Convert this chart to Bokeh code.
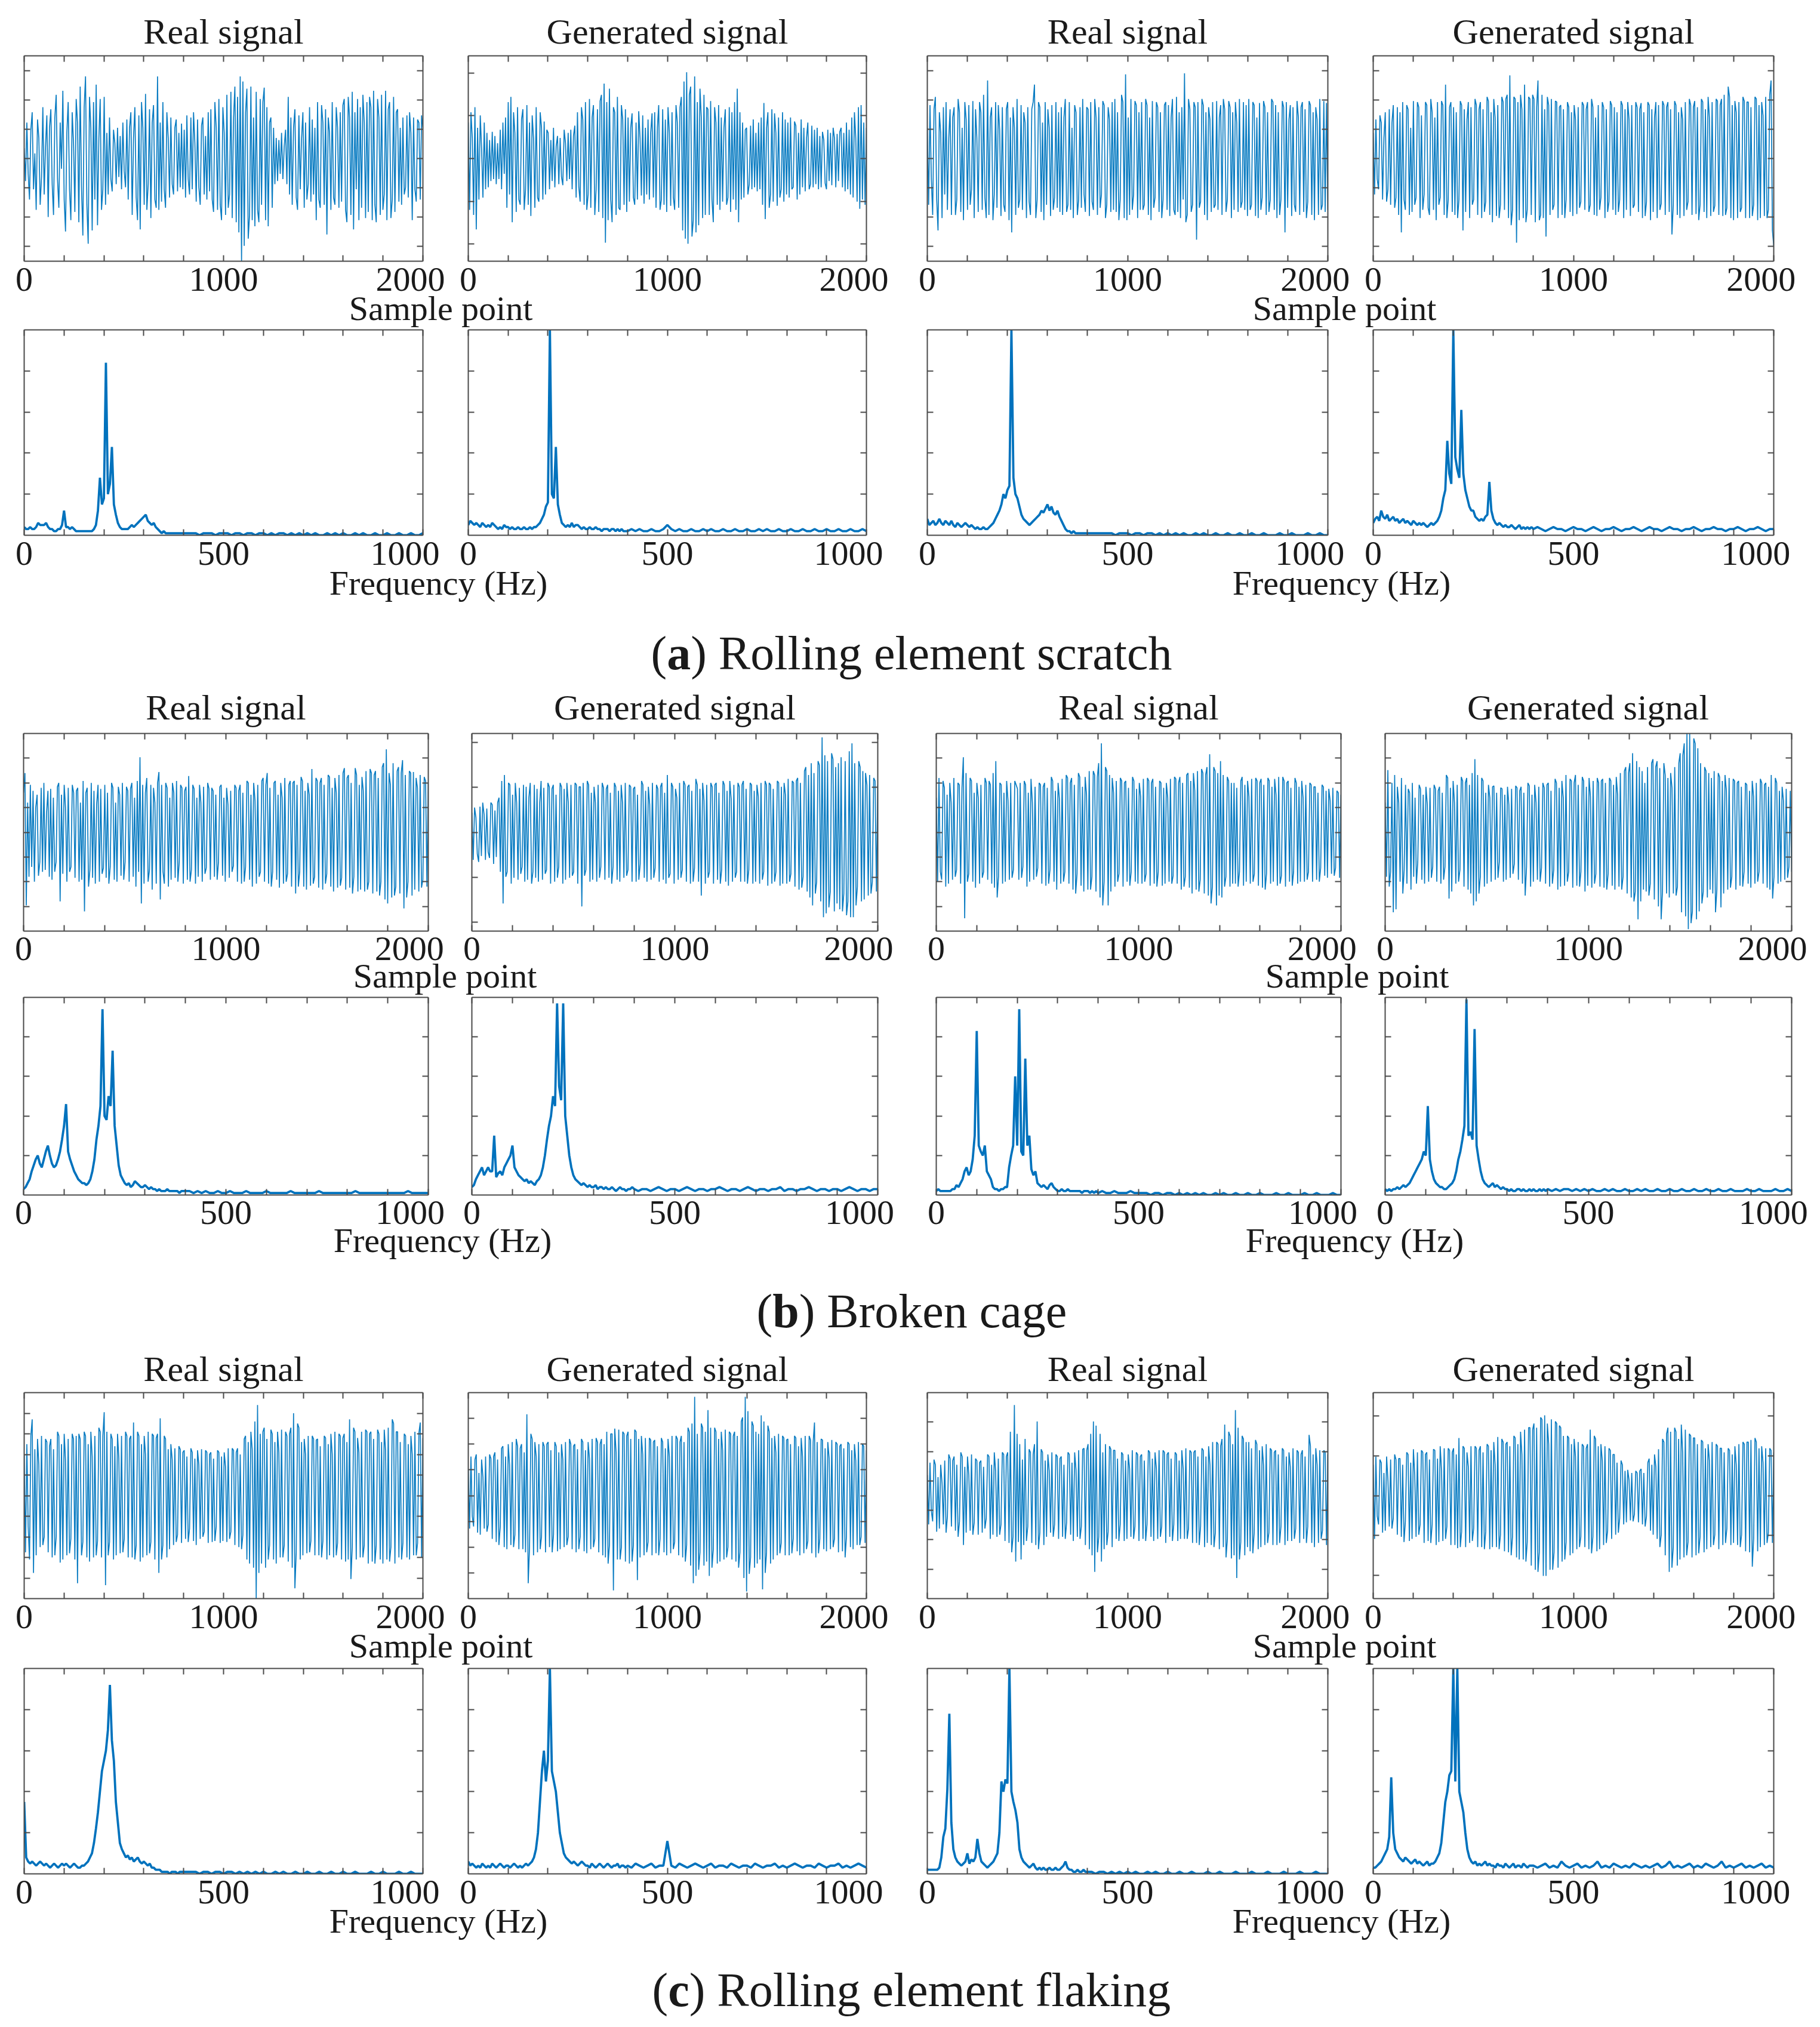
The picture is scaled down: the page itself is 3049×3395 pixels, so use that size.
import numpy as np
from bokeh.plotting import figure
from bokeh.layouts import column, row
from bokeh.models import Range1d, LinearAxis, FixedTicker, CustomJSTickFormatter
from bokeh.core.properties import value
from bokeh.embed import file_html
from bokeh.resources import INLINE

# ---------------- data (time signals, % of half frame height) ----------------
time_a1 = [10,-22,35,-15,-40,28,45,-30,5,-50,38,20,-45,-18,50,-35,12,42,-57,30,
           48,-25,-55,40,62,-20,-48,35,-10,66,-40,-71,25,55,-30,-60,45,15,-52,58,
           35,-62,70,-28,-75,50,80,-45,-83,60,30,-70,55,-40,72,-65,20,58,-50,-30,
           60,-45,25,-35,40,-20,-32,28,15,-25,30,-18,22,-30,35,-12,-28,38,-40,30,
           45,-55,20,50,-38,-60,42,-69,55,30,-45,63,-50,-25,48,-58,35,52,-40,-48,
           80,-50,35,-42,55,-30,-48,45,20,-38,40,-25,-35,30,38,-32,25,-28,34,-30,
           28,-38,42,-20,-35,40,-30,45,15,-42,38,-28,-45,32,40,-35,22,-40,45,-32,
           48,-40,-52,55,30,-50,58,-45,-60,50,25,-55,62,-48,-35,65,-58,40,70,-62,
           60,-72,80,-100,75,-85,45,68,-78,-55,70,-60,40,-66,65,-50,-62,58,-45,55,
           69,-60,50,-66,35,40,-48,30,-25,20,-22,18,-15,25,-20,12,28,-25,60,-35,
           40,-45,30,48,-38,-50,42,-30,20,45,-48,35,-40,-25,50,-42,38,-35,30,-60,
           55,-40,-48,52,35,-45,48,-74,40,25,-50,55,-38,-45,50,30,-48,45,-42,52,
           58,-50,-62,60,40,-55,65,-69,45,-30,58,-60,50,-48,62,35,-58,55,-52,60,
           50,-60,66,-45,-62,58,40,-55,62,-50,-35,66,-60,48,55,-58,-40,60,-52,45,
           48,-42,30,-45,40,-35,-28,42,-38,45,25,-60,40,-30,-42,38,35,-40,42,30]
time_a2 = [35,-50,45,20,-55,50,-69,30,-40,42,10,-38,35,-30,25,-28,18,-22,26,-20,
           22,-25,15,-20,28,-30,35,-15,40,-48,55,-35,60,-62,45,25,-52,50,-40,-45,
           38,48,-50,-30,52,-45,35,-56,42,20,-48,50,-38,-42,45,30,-40,36,-35,28,
           25,-30,18,-22,30,-28,12,22,-25,20,-18,-26,28,15,-22,25,-20,28,-30,22,
           32,-38,45,-28,-42,50,38,-45,55,-50,-35,58,-48,40,52,-55,-30,48,-52,56,
           62,-58,73,-82,55,-60,68,-40,-62,50,45,-55,60,-48,-50,52,38,-45,48,-52,
           40,-42,30,44,-38,-45,35,-40,46,20,-36,42,-44,30,-35,38,-40,25,44,-38,
           45,-48,30,52,-50,-40,48,-45,38,-52,50,25,-46,45,-38,-50,52,35,-48,50,
           60,-70,75,-78,84,-83,62,70,-76,-60,80,-72,55,-65,68,40,-58,62,-55,50,
           48,-55,56,-40,-62,50,35,-45,52,-50,40,-42,30,48,-45,-38,50,-52,45,-40,
           55,-50,68,-62,45,-40,35,-38,28,30,-35,-25,32,-30,38,-28,25,-32,35,-30,
           40,-45,54,-59,30,45,-48,-35,48,-42,44,25,-46,40,-38,-30,45,-42,38,-35,
           35,-38,40,-30,-28,36,32,-40,25,-35,38,-28,30,-32,20,35,-30,-25,32,-28,
           28,-25,30,-30,22,-28,26,18,-24,-30,28,-22,25,-26,30,20,-28,24,-22,26,
           30,-28,25,-32,35,-30,28,-35,40,-38,45,20,-42,50,-49,52,-40,35,-45,30]
time_a3 = [30,-45,52,-20,-55,48,60,-40,-70,45,25,-58,50,-35,55,-50,20,48,-55,40,
           50,-55,-40,58,45,-52,30,-60,55,38,-50,52,-45,-30,56,-58,48,20,-52,55,
           45,-50,62,-38,-58,76,-55,40,50,-60,-35,55,-48,52,28,-56,50,-45,-52,48,
           55,-60,40,-72,50,30,-55,58,-48,-40,52,-50,45,35,-58,50,-42,-55,48,55,
           72,-58,-40,55,50,-52,35,-60,55,-45,48,30,-56,52,-50,-38,55,-48,45,-52,
           50,-55,40,58,-52,-45,55,-50,30,-58,52,45,-55,-40,50,-48,58,-35,-52,50,
           48,-56,55,-42,-50,58,40,-55,50,-48,-35,56,52,-58,-45,50,38,-52,55,-50,
           58,-52,45,-60,-40,62,55,-58,82,-60,40,-55,58,-50,-35,56,52,-58,45,-50,
           55,-50,-45,58,52,-55,40,-60,56,-48,-38,55,50,-52,45,-58,-40,52,55,-50,
           52,-56,40,58,-50,-55,60,-52,45,-58,50,-40,83,-62,-55,58,48,-52,-45,55,
           50,-79,55,-48,-42,58,52,-55,45,-60,50,38,-52,55,-48,-45,56,-50,40,52,
           -55,58,48,-52,-40,56,50,-58,45,-50,55,35,-52,58,-48,-42,55,-50,52,-56,
           58,-50,-45,55,52,-56,40,-58,54,-50,-38,56,50,-55,45,-52,-40,58,55,-50,
           52,-58,45,-55,-40,56,50,-72,55,-48,38,52,-56,50,-45,-52,56,40,-55,50,
           55,-52,48,-58,-42,56,52,-55,45,-60,50,38,-55,58,-50,-45,56,-52,54,-50]
time_a4 = [25,-35,38,-20,-30,42,35,-40,20,45,-42,-30,48,-45,35,52,-48,-38,50,-55,
           45,-72,55,-40,-50,52,48,-55,30,-52,56,-45,-38,55,50,-58,42,-50,-35,55,
           52,-48,-55,58,45,-50,40,-60,55,-45,-38,56,52,-55,72,-58,-40,50,55,-52,
           50,-55,45,-58,-40,56,52,-70,48,-52,38,55,-58,50,-45,-40,58,52,-55,48,
           55,-58,48,-52,-42,60,56,-55,45,-62,58,40,-56,52,-58,-45,60,55,-50,58,
           62,-58,81,-65,-50,60,58,-82,55,-60,62,48,-58,72,-62,-50,60,58,-55,62,
           58,-62,50,76,-60,-55,62,-58,48,-76,60,52,-55,58,-50,-45,56,55,-58,50,
           52,-55,48,-58,-40,55,50,-52,45,-56,52,38,-54,50,-48,-42,55,52,-50,48,
           55,-52,-45,58,50,-55,40,-56,52,-50,-38,55,50,-58,48,-52,-42,56,52,-50,
           50,-55,45,-52,-40,56,52,-58,48,-50,55,38,-56,52,-48,-45,55,50,-52,48,
           54,-58,45,-56,-42,55,52,-60,48,-52,40,55,-58,52,-50,-44,56,52,-55,50,
           55,-52,48,-74,-45,56,52,-55,45,-58,50,38,-56,55,-50,-42,58,52,-55,50,
           56,-54,50,-60,-45,58,55,-52,48,-58,60,40,-56,55,-52,-46,58,56,-55,52,
           58,-56,62,-55,-48,70,60,-58,52,-60,56,45,-58,55,-52,-48,60,56,-58,55,
           55,-58,50,-56,-45,60,58,-60,52,-58,55,42,-56,60,-58,-50,62,76,-70,-85]
time_b1 = [40,60,-74,30,-45,48,-35,42,-50,25,38,-44,-30,45,-40,50,-38,20,42,-45,
           44,-48,35,-40,-30,46,50,-70,38,-42,48,25,-50,45,-40,-35,48,40,-46,42,
           45,-50,30,-48,52,-80,40,45,-55,-38,50,-46,42,-52,28,48,-50,44,-42,-36,
           48,-46,40,-52,-35,50,45,-48,30,-50,46,38,-44,50,-48,-30,46,42,-50,44,
           50,-45,35,-55,52,-40,76,-72,48,-52,40,55,-50,-38,48,-58,45,30,-52,50,
           61,-68,48,-40,-52,50,45,-55,35,-48,50,40,-46,52,-50,-30,48,45,-52,42,
           46,-48,57,-50,-38,48,44,-52,35,-45,48,30,-50,46,-42,-36,50,44,-48,45,
           42,-45,38,-48,-30,46,48,-44,35,-50,45,28,-46,42,-40,-34,48,45,-50,42,
           48,-52,40,-50,-35,52,50,-48,38,-55,50,32,-52,48,-45,-40,52,55,-50,48,
           60,-52,45,-55,-40,50,52,-48,38,-56,50,35,-52,55,-50,-42,48,52,-55,50,
           52,-62,48,-55,-40,56,52,-55,42,-58,50,38,-54,64,-52,-45,55,52,-56,50,
           55,-58,48,-52,-42,58,56,-55,45,-60,55,40,-56,58,-54,-46,60,65,-58,55,
           58,-56,50,-62,-45,65,58,-60,48,-58,56,42,-60,62,-58,-50,64,60,-62,58,
           62,-60,55,-64,-50,66,70,-68,84,-72,60,48,-66,70,-64,-55,62,66,-62,60,
           73,-77,58,-66,-50,62,60,-64,61,-58,55,45,-60,58,-56,-48,56,52,-55,50]
time_b2 = [20,-28,25,15,-22,-30,26,-24,30,18,-28,24,-20,-26,30,28,-32,22,-25,30,
           35,-40,52,-72,58,-45,-40,50,48,-52,38,-46,50,30,-48,45,-42,-35,48,-50,
           46,-48,35,50,-52,-40,48,-46,44,-50,30,52,-48,45,-42,-38,50,46,-52,44,
           48,-50,38,-46,-35,50,46,-52,44,-48,50,30,-46,48,-44,-40,50,48,-52,46,
           46,-75,50,-44,-38,52,48,-50,40,-48,46,30,-50,48,-46,-35,50,45,-48,44,
           48,-46,40,-52,-35,50,46,-48,42,-50,48,30,-46,50,-44,-38,48,46,-50,44,
           46,-50,38,-48,-32,52,48,-46,42,-50,46,28,-48,50,-46,-36,48,44,-50,46,
           50,-48,40,-52,58,-46,-42,50,46,-52,44,35,-48,50,-46,-38,52,48,-50,46,
           48,-52,42,-50,-36,54,48,-50,44,-64,50,32,-52,48,-46,-40,50,46,-52,48,
           50,-48,40,-52,-38,52,48,-50,42,-54,52,34,-50,48,-46,-40,50,46,-50,48,
           52,-50,44,-52,-38,50,48,-52,42,-50,48,36,-52,50,-48,-40,52,48,-54,50,
           48,-52,44,-50,-40,52,50,-54,46,-52,50,38,-52,54,-50,-42,52,50,-55,52,
           55,-58,50,-56,-45,62,66,-60,58,-66,70,-74,60,-62,-50,72,68,-70,96,-86,
           78,-82,72,-76,-60,80,74,-80,66,-72,70,-78,76,-80,-62,72,-84,-70,82,-86,
           90,-86,70,-74,-55,72,66,-70,62,-68,60,48,-64,58,-62,-50,55,52,-60,48]
time_b3 = [35,-50,55,-40,-48,52,45,-55,38,-52,50,30,-48,55,-45,-38,50,48,-52,45,
           76,-87,60,-50,-42,55,52,-50,40,-56,50,35,-52,48,-46,-40,55,50,-48,52,
           48,-52,60,-56,72,-66,-45,50,48,-52,40,-50,52,32,-48,50,-46,-38,52,48,
           44,-48,50,-46,-35,52,48,-55,40,-50,54,30,-48,46,-45,-36,50,48,-52,46,
           50,-54,45,-52,-38,56,52,-50,42,-58,50,34,-52,54,-50,-40,58,55,-52,50,
           55,-58,48,-62,-42,60,56,-54,46,-60,56,38,-58,62,-58,-45,62,58,-60,56,
           70,-66,90,-74,-50,66,62,-74,58,-60,55,40,-55,52,-50,-42,55,52,-55,50,
           52,-50,45,-54,-40,56,52,-50,44,-52,50,36,-52,54,-50,-42,55,52,-54,50,
           54,-52,46,-55,-40,52,50,-54,45,-52,50,35,-50,54,-52,-44,56,54,-52,50,
           56,-58,50,-55,-45,58,60,-56,52,-62,60,42,-58,62,-60,-48,64,60,-62,58,
           66,-64,79,-72,-55,66,62,-74,60,-64,72,-66,58,-55,-45,56,52,-55,50,-52,
           50,-52,45,-55,-40,52,56,-54,48,-50,52,36,-52,54,-50,-42,55,52,-54,50,
           54,-56,48,-58,-42,55,52,-52,46,-50,54,38,-54,56,-52,-44,56,52,-55,50,
           52,-50,45,-54,-40,55,50,-52,46,-50,52,35,-50,48,-48,-40,50,48,-50,46,
           46,-48,40,-50,-36,48,46,-44,42,-46,44,32,-42,45,-44,-36,42,40,-46,38]
time_b4 = [30,-45,63,-55,-40,50,-81,58,-78,46,30,-50,55,-62,-38,48,-52,44,40,-58,
           50,-45,35,-52,-30,48,44,-48,38,-52,46,28,-50,45,-46,-35,48,44,-50,42,
           46,-52,40,-48,-35,58,55,-67,45,-60,52,30,-52,48,-50,-38,56,52,-55,50,
           55,-58,48,-62,60,-74,74,-70,58,-62,-45,55,52,-55,40,-52,48,35,-50,46,
           47,-48,40,-46,-30,45,44,-50,38,-48,46,28,-46,44,-42,-32,47,45,-48,42,
           46,-52,40,-64,-35,50,47,-55,38,-50,48,30,-48,46,-50,-36,50,45,-52,48,
           50,-55,42,-52,-38,54,50,-58,45,-55,52,35,-54,58,-50,-40,54,52,-56,50,
           58,-54,48,-55,-40,56,52,-60,46,-54,55,36,-56,52,-52,-42,55,50,-55,52,
           54,-56,50,-58,-42,55,52,-54,48,-58,56,38,-55,60,-58,-45,62,66,-62,60,
           70,-66,80,-70,-60,72,-88,66,-70,62,-58,50,-60,66,-64,-52,70,74,-68,66,
           72,-75,65,-88,-60,70,58,-62,55,-66,60,45,-62,66,-64,-55,70,80,-81,78,
           90,-85,100,-98,100,-92,-80,95,90,-88,85,-80,70,-72,-60,66,62,-66,60,-58,
           55,-62,62,-81,-58,60,56,-76,52,-62,58,42,-58,55,-56,-45,54,52,-58,50,
           52,-54,46,-55,-40,50,48,-52,42,-56,52,36,-52,50,-50,-40,54,50,-52,48,
           50,-56,46,-58,58,-67,-45,55,50,-52,42,-50,46,32,-48,44,-46,-35,42,-40]
time_c1 = [40,-55,50,-30,-62,58,74,-75,45,-58,55,30,-50,58,-48,-40,55,52,-55,48,
           55,-60,45,-58,-40,62,58,-65,50,-62,60,35,-58,55,-56,-42,60,55,-62,58,
           -85,60,55,-58,-45,62,58,-60,50,-64,62,38,-60,58,-58,-44,66,62,-60,58,
           81,-87,62,-58,-45,60,55,-62,48,-58,60,36,-56,58,-55,-42,62,58,-60,55,
           58,-60,71,-62,-48,62,58,-64,50,-60,58,40,-58,62,-56,-45,60,58,-62,56,
           60,-75,75,-62,-48,58,55,-60,45,-52,50,35,-48,46,-45,-38,48,45,-46,42,
           44,-42,38,-45,-32,46,42,-44,36,-48,44,30,-42,45,-40,-35,44,42,-46,40,
           42,-45,36,-44,-30,44,42,-46,38,-44,42,28,-45,46,-42,-35,46,44,-48,42,
           46,-50,40,-52,-38,55,58,-62,52,-66,62,45,-70,72,-100,88,-75,60,-66,62,
           66,-70,55,-62,-48,64,60,-62,52,-66,62,42,-60,64,-60,-48,62,58,-64,60,
           66,-70,80,-90,-55,70,66,-62,52,-58,55,40,-56,58,-55,-44,58,55,-58,54,
           55,-58,48,-60,-44,58,56,-62,50,-58,60,40,-60,62,-58,-46,60,58,-62,56,
           60,-64,52,-62,74,-81,-50,66,62,-62,56,42,-60,62,-60,-48,64,62,-66,60,
           62,-64,55,-66,-48,64,60,-62,52,-66,64,44,-62,66,-64,-50,74,70,-66,62,
           62,-60,52,-62,-46,60,58,-60,50,-62,58,40,-58,62,-58,-46,61,71,-60,56]
time_c2 = [25,-32,38,-20,-30,35,40,-36,22,-38,35,18,-32,38,-35,-28,40,36,-42,38,
           42,-45,35,-48,-30,46,48,-50,38,-52,50,30,-48,52,-50,-38,55,48,-52,46,
           50,-52,42,-55,79,-85,-50,60,55,-58,52,38,-55,50,-52,-40,52,48,-55,50,
           52,-50,44,-55,-38,52,48,-54,42,-52,50,35,-50,52,-48,-40,55,50,-52,48,
           50,-55,45,-52,-40,55,52,-54,44,-56,52,36,-52,55,-50,-42,56,52,-55,50,
           55,-58,50,-60,62,-66,-48,60,60,-92,65,42,-62,64,-62,-50,62,60,-64,58,
           62,-66,55,-64,-48,64,62,-82,55,-60,58,40,-58,56,-55,-45,56,54,-58,52,
           54,-56,48,-58,-42,56,52,-55,46,-58,55,38,-56,58,-52,-45,58,55,-58,52,
           58,-60,52,-64,-48,66,62,-68,70,-85,96,-78,60,-72,-55,70,66,-68,62,-64,
           83,-78,66,-70,-52,66,62,-66,55,-64,62,44,-62,64,-60,-50,62,60,-62,58,
           62,-64,58,-70,-55,72,76,-80,96,-93,82,-76,-60,72,68,-70,62,-66,60,-62,
           78,-91,72,-75,-55,68,62,-66,56,-62,58,42,-58,60,-56,-46,58,56,-58,54,
           55,-58,50,-56,-42,58,56,-54,48,-58,56,38,-56,58,-52,-44,58,54,-56,52,
           71,-60,52,-56,-42,55,54,-52,46,-54,52,36,-52,54,-50,-42,52,50,-55,48,
           50,-54,46,-60,-40,52,50,-50,44,-52,50,34,-48,52,-48,-40,50,48,-46,44]
time_c3 = [20,-28,32,-15,-25,35,30,-35,18,-32,30,12,-28,34,-36,-20,40,36,-30,34,
           38,-34,30,-40,-25,42,38,-48,28,-36,38,20,-34,40,-38,-26,36,34,-38,32,
           34,-36,28,-32,-22,40,38,-42,30,-38,42,24,-40,36,-38,-28,42,40,-44,38,
           42,-46,62,-55,-40,88,-64,60,-45,50,-62,35,-48,55,-44,-30,45,42,-46,40,
           50,-48,72,-52,-36,45,42,-48,34,-40,40,24,-36,42,-40,-28,40,38,-42,36,
           38,-40,30,-42,-26,42,40,-38,32,-44,42,25,-40,44,-42,-30,45,46,-48,44,
           50,-52,60,-58,72,-74,68,-55,-40,60,-64,42,-52,50,-48,-35,48,45,-50,44,
           44,-42,36,-44,-28,42,40,-44,34,-42,40,26,-40,44,-42,-30,42,40,-44,38,
           40,-42,34,-44,-28,44,42,-40,36,-44,42,26,-42,44,-40,-30,44,42,-46,40,
           42,-40,36,-44,-28,42,40,-44,34,-42,44,26,-42,46,-42,-32,44,42,-46,42,
           44,-46,38,-48,-30,46,44,-50,38,-46,48,30,-48,52,-50,-36,52,50,-52,48,
           55,-50,69,-60,-42,62,58,-61,50,-58,83,-80,66,-62,-45,58,55,-58,52,-50,
           52,-54,46,-56,-36,54,50,-52,44,-50,48,30,-48,50,-46,-36,46,44,-48,42,
           44,-48,40,-46,-30,46,44,-48,38,-44,42,28,-44,46,-42,-32,44,42,-46,40,
           44,-42,38,-46,-30,59,48,-46,40,-50,46,30,-46,44,-42,-34,44,42,-48,40]
time_c4 = [30,-42,38,-20,-28,35,32,-36,22,-34,38,15,-30,35,-32,-22,40,35,-38,36,
           36,-40,30,-45,-25,42,40,-44,32,-42,45,20,-40,42,-38,-28,44,42,-46,40,
           42,-44,35,-46,-28,45,44,-48,36,-45,48,25,-44,46,-42,-30,46,44,-48,42,
           46,-48,40,-51,56,-50,-35,48,46,-50,42,28,-46,48,-44,-32,48,46,-50,44,
           48,-50,42,-52,-35,50,48,-52,44,-50,52,30,-50,57,-52,-38,55,52,-54,50,
           52,-55,48,-58,-40,58,56,-60,50,-62,62,40,-62,64,-64,-45,66,66,-68,64,
           70,-72,66,-74,-55,76,74,-78,78,-78,70,50,-72,74,-72,-55,72,70,-70,68,
           66,-64,58,-62,-45,58,56,-58,50,-56,55,38,-52,52,-50,-40,50,48,-50,46,
           50,-52,64,-56,-40,58,55,-54,48,-52,50,34,-48,48,-46,-34,46,44,-42,40,
           40,-38,32,-36,-22,34,30,-28,24,-26,25,15,-24,22,-25,-18,24,22,-26,24,
           26,-28,22,-30,-20,32,36,-34,30,-38,40,28,-42,45,-50,-38,55,52,-58,60,
           66,-74,62,-70,-50,66,62,-68,55,-62,69,42,-60,64,-58,-45,60,58,-60,56,
           56,-58,50,-56,-40,54,52,-55,46,-52,50,34,-50,52,-48,-38,50,48,-52,46,
           46,-48,42,-46,-32,46,44,-48,40,-46,48,30,-48,50,-50,-38,52,50,-54,52,
           52,-55,54,-69,-42,56,52,-54,46,-50,48,32,-48,46,-46,-36,46,44,-46,42]

# ---------------- data (spectra, % of frame height; 0-395 Hz every 5 Hz, 400-1000 Hz every 10 Hz) ----
spec_a1_low = [4,3,3,4,3,3,4,6,5,5, 5,6,4,3,3,2,2,3,3,5, 12,4,4,3,4,3,2,2,2,2, 2,2,2,2,2,3,5,12,28,15,
               18,84,20,25,43,15,10,6,4,3, 3,3,3,4,5,4,5,6,7,8, 9,10,7,6,5,6,4,3,2,1, 2,1,1,1,1,1,1,1,1,1]
spec_a1_high = [1,1,1,1,0,1,1,1,0,1, 1,1,0,1,1,0,1,1,0,1, 1,0,1,0,1,1,0,1,0,1, 0,1,0,1,0,0,1,0,1,0,
                1,0,0,1,0,1,0,0,1,0, 0,1,0,0,1,0,0,1,0,0,1]
spec_a2_low = [5,7,6,5,6,5,4,6,5,4, 5,4,6,5,4,3,4,3,5,4, 4,3,4,3,3,4,3,3,4,3, 3,4,3,4,4,5,6,8,10,14,
               16,100,20,18,43,15,10,6,5,4, 5,4,6,4,5,5,4,3,4,3, 3,4,3,3,4,3,3,2,3,3, 3,2,3,3,2,3,2,3,2,2]
spec_a2_high = [2,3,2,3,2,2,3,2,2,3, 5,3,2,3,2,2,3,2,2,3, 2,3,2,2,3,2,2,3,2,2, 3,2,2,3,2,3,2,2,3,2,
                2,3,2,2,3,2,2,3,2,2, 3,2,2,3,2,2,3,2,2,3,2]
spec_a3_low = [8,5,6,7,5,6,8,6,5,7, 6,5,7,5,4,6,5,4,5,6, 5,4,5,4,3,4,3,3,4,3, 3,4,5,6,8,10,12,15,20,18,
               22,24,100,28,20,18,14,10,8,7, 6,5,6,7,8,9,10,12,11,13, 15,12,14,11,10,12,9,7,5,3, 2,2,1,2,1,1,1,1,1,1]
spec_a3_high = [1,1,1,1,1,1,1,0,1,1, 1,0,1,1,0,1,1,0,1,0, 1,0,1,0,1,0,0,1,0,1, 0,0,1,0,0,1,0,0,1,0,
                0,1,0,0,1,0,0,0,1,0, 0,1,0,0,0,1,0,0,1,0,0]
spec_a4_low = [6,8,9,7,12,9,8,10,7,8, 9,7,8,6,7,8,6,7,6,5, 7,6,5,6,5,6,5,4,5,6, 5,6,7,9,12,18,22,46,30,25,
               100,38,32,28,61,30,22,18,14,12, 12,9,8,7,8,7,9,10,26,12, 8,6,5,6,5,4,5,4,4,5, 4,3,4,5,3,4,3,4,3,4]
spec_a4_high = [3,4,3,2,3,4,3,3,2,3, 4,3,3,2,3,4,3,2,3,3, 4,3,2,3,3,4,3,2,3,4, 3,3,2,3,4,3,3,2,3,3,
                4,3,2,3,3,4,3,3,2,3, 3,4,3,2,3,3,4,3,2,3,3]
spec_b1_low = [3,4,6,8,12,15,18,20,16,14, 18,22,25,20,16,14,15,18,22,28, 35,46,22,18,15,12,10,8,7,6, 6,5,6,8,12,18,28,35,45,94,
               40,38,50,45,73,35,25,15,10,8, 6,5,6,4,5,7,6,5,4,4, 5,4,3,4,3,3,2,3,2,2, 2,3,2,2,2,2,2,1,2,2]
spec_b1_high = [2,2,1,2,1,2,1,1,2,1, 1,2,1,1,1,2,1,1,1,1, 2,1,1,1,1,1,2,1,1,1, 1,1,1,2,1,1,1,1,1,1,
                1,1,2,1,1,1,1,1,1,1, 1,1,1,1,1,2,1,1,1,1,1]
spec_b2_low = [4,5,8,10,12,14,10,12,14,12, 12,30,9,11,12,10,14,16,18,20, 25,14,12,10,9,8,7,8,6,7, 6,5,7,8,10,14,20,28,35,40,
               50,45,97,55,48,97,40,30,20,14, 10,8,7,6,5,6,5,4,5,4, 4,5,3,4,4,3,4,3,3,4, 3,2,3,4,3,3,2,3,3,4]
spec_b2_high = [3,2,3,3,2,3,4,3,2,3, 3,2,3,4,3,2,3,3,2,3, 3,4,3,2,3,3,2,3,4,3, 2,3,3,2,3,3,4,2,3,3,
                2,3,3,4,3,2,3,3,2,3, 3,2,3,4,3,2,3,3,2,3,3]
spec_b3_low = [2,3,2,2,2,2,2,2,3,3, 5,4,6,8,12,14,10,12,18,30, 83,25,22,20,25,12,10,8,4,3, 3,2,3,3,4,4,14,20,25,60,
               25,94,22,20,69,25,30,13,10,12, 6,5,4,5,4,3,5,6,4,3, 2,2,3,2,2,3,2,2,2,2, 2,2,1,2,2,2,1,2,1,2]
spec_b3_high = [1,2,1,1,2,1,1,1,2,1, 1,1,1,0,1,1,0,1,1,0, 1,0,1,0,1,0,1,0,0,1, 0,1,0,0,1,0,0,1,0,0,
                1,0,0,0,1,0,0,1,0,0, 0,1,0,0,1,0,0,0,1,0,0]
spec_b4_low = [3,2,3,2,3,3,4,3,4,5, 4,5,6,8,10,12,14,16,18,22, 20,45,18,12,8,6,5,4,4,3, 3,4,5,6,8,12,18,22,28,35,
               99,30,32,28,84,25,18,12,8,6, 5,4,5,6,4,5,4,3,4,3, 3,2,3,2,2,3,3,2,3,2, 2,3,2,3,2,2,3,2,3,2]
spec_b4_high = [3,2,3,2,3,3,2,3,2,3, 2,3,2,2,3,2,3,2,2,3, 2,2,3,2,3,2,2,3,2,2, 3,2,2,3,2,2,3,2,2,3,
                2,2,3,2,2,3,2,2,2,3, 2,2,3,2,2,2,3,2,2,3,2]
spec_c1_low = [35,8,6,5,6,5,4,5,6,5, 4,5,4,3,4,5,4,3,4,5, 4,5,4,3,4,5,4,3,3,4, 4,5,6,8,10,15,22,30,40,50,
               55,60,70,92,65,55,35,25,15,12, 10,8,9,7,8,6,7,8,6,5, 6,5,4,5,3,3,2,2,2,1, 1,1,1,0,1,1,1,0,1,1]
spec_c1_high = [1,1,1,1,0,1,1,0,1,1, 0,1,1,0,1,0,1,0,1,0, 1,0,0,1,0,1,0,0,1,0, 0,1,0,0,1,0,0,1,0,0,
                1,0,0,1,0,0,0,1,0,0, 1,0,0,0,1,0,0,1,0,0,0]
spec_c2_low = [6,4,5,4,3,4,3,5,4,3, 4,3,5,4,3,4,5,4,3,4, 4,3,4,5,4,3,4,3,4,5, 4,5,6,8,12,20,35,50,60,45,
               55,100,50,45,40,30,20,15,10,8, 7,6,5,6,5,4,5,6,5,4, 4,3,5,4,3,4,5,4,3,4, 5,4,3,4,4,5,3,4,4,3]
spec_c2_high = [4,3,5,4,3,4,5,3,4,4, 16,4,3,5,4,3,4,5,4,3, 4,5,3,4,4,3,5,4,3,4, 4,3,5,4,3,4,4,5,3,4,
                3,4,5,4,3,4,4,3,5,4, 3,4,4,5,3,4,3,4,5,4,3]
spec_c3_low = [2,2,2,2,2,2,3,8,18,22, 41,78,25,12,8,6,5,4,5,6, 10,5,7,6,8,17,10,6,5,4, 3,4,5,6,8,10,20,45,40,46,
               44,100,40,35,31,25,12,8,6,5, 4,3,4,5,3,2,3,2,3,2, 2,3,2,2,3,2,2,3,4,6, 3,2,2,1,1,2,1,1,2,1]
spec_c3_high = [1,1,0,1,1,0,1,0,1,0, 1,0,1,0,0,1,0,1,0,0, 1,0,0,1,0,0,1,0,0,0, 1,0,0,1,0,0,0,1,0,0,
                0,1,0,0,0,1,0,0,0,1, 0,0,0,1,0,0,0,1,0,0,0]
spec_c4_low = [3,3,4,5,6,8,10,12,18,47, 20,12,10,8,7,6,8,7,6,5, 6,7,5,6,5,4,5,6,4,5, 5,6,8,10,15,25,35,40,48,50,
               100,45,100,40,35,30,20,12,8,6, 5,6,4,5,4,5,6,4,5,4, 4,3,5,4,4,3,5,4,3,4, 5,3,4,4,3,5,4,3,4,4]
spec_c4_high = [4,3,4,5,3,4,3,6,4,3, 4,5,3,4,3,4,6,3,4,3, 5,4,3,4,3,5,4,3,4,3, 4,5,3,4,6,3,4,3,4,5,
                3,4,3,5,4,3,4,6,3,4, 3,4,5,3,4,3,4,5,3,4,3]

# ---------------- texts / ticks ----------------
titles = ["Real signal", "Generated signal", "Real signal", "Generated signal"]
captions = [("(", "a", ") Rolling element scratch"), ("(", "b", ") Broken cage"), ("(", "c", ") Rolling element flaking")]
time_tick_marks = [0, 200, 400, 600, 800, 1000, 1200, 1400, 1600, 1800, 2000]
spec_tick_marks = [0, 100, 200, 300, 400, 500, 600, 700, 800, 900, 1000]
spec_yticks = [20, 40, 60, 80]
# label anchors: the right-hand labels sit a little inside the frame edge, as in the original figure
time_label_pos_ac = [0, 1000, 1937]
time_label_pos_b = [0, 1000, 1906]
spec_label_pos = [0, 500, 955]
time_label_txt = ["0", "1000", "2000"]
spec_label_txt = ["0", "500", "1000"]
time_ytick_cfg = {
    "a1": (100 / 3.5, [-3, -2, -1, 0, 1, 2, 3]), "a2": (100 / 2.4, [-2, -1, 0, 1, 2]),
    "a3": (100 / 3.5, [-3, -2, -1, 0, 1, 2, 3]), "a4": (100 / 3.5, [-3, -2, -1, 0, 1, 2, 3]),
    "b1": (25, [-3, -2, -1, 0, 1, 2, 3]), "b2": (100 / 2.2, [-2, -1, 0, 1, 2]),
    "b3": (25, [-3, -2, -1, 0, 1, 2, 3]), "b4": (25, [-3, -2, -1, 0, 1, 2, 3]),
    "c1": (20, [-4, -3, -2, -1, 0, 1, 2, 3, 4]), "c2": (25, [-3, -2, -1, 0, 1, 2, 3]),
    "c3": (100 / 3.5, [-2.5, -1.5, -0.5, 0.5, 1.5, 2.5]), "c4": (100 / 2.575, [-2, -1, 0, 1, 2]),
}

# ---------------- styles ----------------
FONT = "Liberation Serif"
TXT = "#1a1a1a"
FRAME = "#4a4a4a"
TIME_COLOR = "#0a7cc2"
SPEC_COLOR = "#0072BD"
PAGE_W = 3045


def blank_fmt():
    return CustomJSTickFormatter(code="return ''")


def add_axes(p, label_pos, label_txt, marks, yt, standoff):
    common = dict(axis_line_color=FRAME, axis_line_width=2,
                  minor_tick_line_color=FRAME, minor_tick_line_width=2,
                  major_tick_in=10, major_tick_out=0, minor_tick_in=10, minor_tick_out=0)
    below = LinearAxis(ticker=FixedTicker(ticks=label_pos, minor_ticks=marks),
                       major_label_overrides=dict(zip(label_pos, label_txt)),
                       major_tick_line_color=None,
                       major_label_text_font=FONT, major_label_text_font_size="58px",
                       major_label_text_color=TXT, major_label_standoff=standoff, **common)
    above = LinearAxis(ticker=FixedTicker(ticks=[], minor_ticks=marks), formatter=blank_fmt(),
                       major_tick_line_color=None,
                       major_label_text_font_size="0px", major_label_standoff=0, **common)
    left = LinearAxis(ticker=FixedTicker(ticks=yt), formatter=blank_fmt(),
                      major_tick_line_color=FRAME, major_tick_line_width=2,
                      major_label_text_font_size="0px", major_label_standoff=0, **common)
    right = LinearAxis(ticker=FixedTicker(ticks=yt), formatter=blank_fmt(),
                       major_tick_line_color=FRAME, major_tick_line_width=2,
                       major_label_text_font_size="0px", major_label_standoff=0, **common)
    p.add_layout(below, "below")
    p.add_layout(above, "above")
    p.add_layout(left, "left")
    p.add_layout(right, "right")


def base_fig(w, h, lb, rb, tb, bb, xr, yr):
    p = figure(width=w, height=h, x_range=xr, y_range=yr, output_backend="svg",
               toolbar_location=None, x_axis_location=None, y_axis_location=None,
               min_border_left=lb, min_border_right=rb, min_border_top=tb, min_border_bottom=bb)
    p.outline_line_color = None
    p.grid.visible = False
    return p


def time_panel(vals, key, geom, fh, bb, label_pos, standoff):
    lb, fw, rb = geom
    p = base_fig(lb + fw + rb, 2 + fh + bb, lb, rb, 2, bb, Range1d(0, 2000), Range1d(-100, 100))
    sp, mult = time_ytick_cfg[key]
    add_axes(p, label_pos, time_label_txt, time_tick_marks, [m * sp for m in mult], standoff)
    xs = np.linspace(0, 2000, len(vals))
    p.line(xs, vals, line_color=TIME_COLOR, line_width=1.7)
    return p


def spec_panel(low, high, geom, fh, bb, standoff):
    lb, fw, rb = geom
    p = base_fig(lb + fw + rb, 2 + fh + bb, lb, rb, 2, bb, Range1d(0, 1000), Range1d(0, 100))
    add_axes(p, spec_label_pos, spec_label_txt, spec_tick_marks, spec_yticks, standoff)
    freqs = list(np.arange(len(low)) * 5) + list(400 + np.arange(len(high)) * 10)
    p.line(freqs, list(low) + list(high), line_color=SPEC_COLOR, line_width=3.8)
    return p


def strip(y0, h, items, overlap=0):
    # transparent text band; a negative top margin lets it reach up into the tick-label band above
    p = figure(width=PAGE_W, height=h, x_range=Range1d(0, PAGE_W), y_range=Range1d(y0 + h, y0),
               output_backend="svg", toolbar_location=None, x_axis_location=None, y_axis_location=None,
               min_border=0)
    p.outline_line_color = None
    p.grid.visible = False
    p.background_fill_color = None
    p.border_fill_color = None
    if overlap:
        p.styles = {"margin-top": f"-{overlap}px"}
    for x, base, txt, size, style, align in items:
        y = base - 0.25 * size
        p.text(x=[x], y=[y], text=[txt], text_font=value(FONT), text_font_size=value(f"{size}px"),
               text_font_style=value(style), text_align=value(align),
               text_baseline=value("alphabetic"), text_color=TXT)
    return p


def title_items(xs, base):
    return [(x, base, t, 60, "normal", "center") for x, t in zip(xs, titles)]


def label_items(xs, base, txt):
    return [(x, base, txt, 58, "normal", "center") for x in xs]


def caption_items(cap, x_left, bold_w, base):
    a, b, c = cap
    return [(x_left, base, a, 80, "normal", "left"),
            (x_left + 26.7, base, b, 80, "bold", "left"),
            (x_left + 26.7 + bold_w, base, c, 80, "normal", "left")]


GEOM_AC = [(40, 668, 52), (24, 667, 59), (43, 671, 48), (28, 671, 74)]
GEOM_B = [(39, 678, 48), (25, 680, 60), (38, 678, 49), (25, 681, 44)]
TITLE_X_AC = [374, 1117.5, 1888.5, 2635.5]
TITLE_X_B = [378, 1130, 1907, 2660]
BB = 80   # bottom band of every panel (holds the tick labels)

# group (a): time frames 93-437, spectrum frames 552-896
S0 = strip(0, 91, title_items(TITLE_X_AC, 67))
TA = row([time_panel(v, k, g, 344, BB, time_label_pos_ac, 11) for v, k, g in
          zip([time_a1, time_a2, time_a3, time_a4], ["a1", "a2", "a3", "a4"], GEOM_AC)])
S1 = strip(467, 83, label_items([738, 2252], 530, "Sample point"), 437 + BB - 467)
SA = row([spec_panel(lo, hi, g, 344, BB, 11) for lo, hi, g in
          zip([spec_a1_low, spec_a2_low, spec_a3_low, spec_a4_low],
              [spec_a1_high, spec_a2_high, spec_a3_high, spec_a4_high], GEOM_AC)])
S2 = strip(926, 300, label_items([734, 2247], 990, "Frequency (Hz)")
           + caption_items(captions[0], 1090, 40, 1113) + title_items(TITLE_X_B, 1199), 896 + BB - 926)
# group (b): time frames 1228-1559, spectrum frames 1670-2001
TB = row([time_panel(v, k, g, 331, BB, time_label_pos_b, 10) for v, k, g in
          zip([time_b1, time_b2, time_b3, time_b4], ["b1", "b2", "b3", "b4"], GEOM_B)])
S3 = strip(1585, 83, label_items([745, 2273], 1648, "Sample point"), 1559 + BB - 1585)
SB = row([spec_panel(lo, hi, g, 331, BB, 10) for lo, hi, g in
          zip([spec_b1_low, spec_b2_low, spec_b3_low, spec_b4_low],
              [spec_b1_high, spec_b2_high, spec_b3_high, spec_b4_high], GEOM_B)])
S4 = strip(2027, 303, label_items([741, 2269], 2091, "Frequency (Hz)")
           + caption_items(captions[1], 1267, 44.5, 2215) + title_items(TITLE_X_AC, 2307), 2001 + BB - 2027)
# group (c): time frames 2332-2677, spectrum frames 2794-3138
TC = row([time_panel(v, k, g, 345, BB, time_label_pos_ac, 11) for v, k, g in
          zip([time_c1, time_c2, time_c3, time_c4], ["c1", "c2", "c3", "c4"], GEOM_AC)])
S5 = strip(2707, 85, label_items([738, 2252], 2770, "Sample point"), 2677 + BB - 2707)
SC = row([spec_panel(lo, hi, g, 344, BB, 11) for lo, hi, g in
          zip([spec_c1_low, spec_c2_low, spec_c3_low, spec_c4_low],
              [spec_c1_high, spec_c2_high, spec_c3_high, spec_c4_high], GEOM_AC)])
S6 = strip(3168, 222, label_items([734, 2247], 3231, "Frequency (Hz)")
           + caption_items(captions[2], 1092, 35.5, 3352), 3138 + BB - 3168)

layout = column(S0, TA, S1, SA, S2, TB, S3, SB, S4, TC, S5, SC, S6)
open("out.html", "w").write(file_html(layout, INLINE))
